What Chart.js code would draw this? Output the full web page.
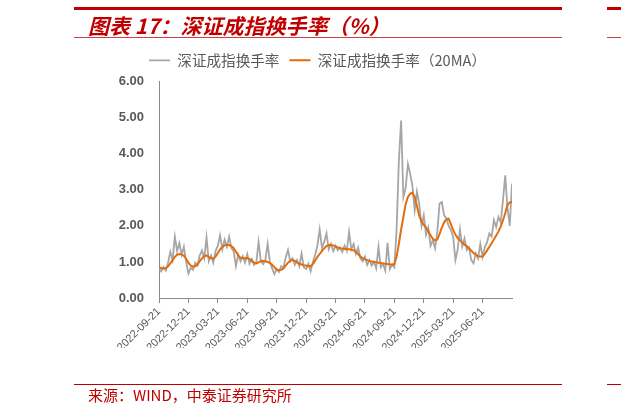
<!DOCTYPE html>
<html>
<head>
<meta charset="utf-8">
<script src="https://cdn.jsdelivr.net/npm/chart.js@4.4.1/dist/chart.umd.min.js"></script>
<style>
  html, body { margin: 0; padding: 0; background: #fff; }
  body { width: 621px; height: 415px; position: relative; overflow: hidden; font-family: "Noto Sans CJK SC", sans-serif; }
  .rule { position: absolute; background: #C00000; }
  #title { position: absolute; left: 88px; top: 11px; font-size: 21px; line-height: 28px; font-weight: bold; font-style: italic; color: #C00000; z-index: 2; }
  #source { position: absolute; left: 88px; top: 385px; font-size: 15px; line-height: 20px; color: #C00000; z-index: 2; }
  #wrap { position: absolute; left: 0; top: 0; width: 621px; height: 415px; }
</style>
</head>
<body>
<!-- page furniture: red rules, title, source -->
<div class="rule" style="left:74px; top:7px; width:488px; height:3px;"></div>
<div class="rule" style="left:74px; top:37px; width:488px; height:1px; opacity:0.75;"></div>
<div class="rule" style="left:74px; top:384px; width:488px; height:1px;"></div>
<div class="rule" style="left:607px; top:7px; width:14px; height:3px;"></div>
<div class="rule" style="left:607px; top:37px; width:14px; height:1px; opacity:0.75;"></div>
<div class="rule" style="left:607px; top:384px; width:14px; height:1px;"></div>
<div id="title">图表 17：深证成指换手率（%）</div>
<div id="source">来源：WIND，中泰证券研究所</div>
<div id="wrap"><canvas id="chart" width="621" height="415"></canvas></div>

<script>
// quarterly tick labels, one every 13 weeks starting at week 0
const tickLabels = [
  "2022-09-21", "2022-12-21", "2023-03-21", "2023-06-21", "2023-09-21", "2023-12-21",
  "2024-03-21", "2024-06-21", "2024-09-21", "2024-12-21", "2025-03-21", "2025-06-21"
];
const weeksPerTick = 13;
const lastWeek = 156;

// weekly readings of the daily turnover (%)
const turnover = [
  0.82, 0.74, 0.86, 0.76, 0.98, 1.28, 1.05, 1.70, 1.30, 1.52,
  1.20, 1.42, 1.00, 0.68, 0.84, 0.78, 0.98, 0.90, 1.18, 1.32,
  1.10, 1.68, 1.02, 1.18, 0.98, 1.30, 1.45, 1.74, 1.35, 1.62,
  1.42, 1.70, 1.38, 1.30, 0.88, 1.20, 1.02, 1.16, 0.98, 1.22,
  0.95, 1.08, 0.92, 0.98, 1.56, 1.02, 0.94, 1.05, 1.50, 1.00,
  0.82, 0.66, 0.80, 0.72, 0.88, 0.85, 1.12, 1.33, 1.02, 1.10,
  0.92, 1.05, 0.88, 1.23, 0.85, 0.80, 0.95, 0.74, 1.00, 1.20,
  1.45, 1.90, 1.40, 1.55, 1.80, 1.35, 1.50, 1.30, 1.45, 1.32,
  1.40, 1.28, 1.45, 1.30, 1.83, 1.35, 1.50, 1.22, 1.40, 1.10,
  1.02, 1.15, 0.92, 1.05, 0.90, 1.00, 0.82, 1.42, 0.85, 0.95,
  0.76, 1.53, 0.80, 0.92, 0.85, 1.90, 3.80, 4.92, 2.80, 3.05,
  3.72, 3.45, 3.10, 2.43, 2.95, 2.60, 2.00, 2.30, 1.75, 1.95,
  1.45, 1.60, 1.38, 1.85, 2.62, 2.66, 2.30, 2.20, 2.00, 1.88,
  1.70, 1.05, 1.35, 1.90, 1.42, 1.65, 1.33, 1.40, 1.05, 0.96,
  1.24, 1.10, 1.50, 1.14, 1.42, 1.55, 1.79, 1.70, 2.16, 1.97,
  2.25, 2.10, 2.70, 3.40, 2.50, 2.00, 3.17
];

// 20-day moving average, same weeks
const turnoverMA = [
  0.84, 0.83, 0.82, 0.83, 0.88, 0.96, 1.05, 1.14, 1.20, 1.22,
  1.21, 1.17, 1.08, 0.98, 0.90, 0.87, 0.88, 0.93, 1.02, 1.10,
  1.16, 1.18, 1.14, 1.10, 1.09, 1.15, 1.25, 1.35, 1.42, 1.46,
  1.47, 1.47, 1.44, 1.38, 1.28, 1.18, 1.12, 1.10, 1.10, 1.11,
  1.08, 1.03, 0.98, 0.96, 0.99, 1.02, 1.03, 1.02, 1.00, 0.97,
  0.92, 0.85, 0.79, 0.77, 0.78, 0.82, 0.90, 0.98, 1.03, 1.05,
  1.03, 0.99, 0.95, 0.93, 0.91, 0.90, 0.88, 0.88, 0.94, 1.04,
  1.14, 1.22, 1.30, 1.38, 1.44, 1.47, 1.47, 1.46, 1.43, 1.40,
  1.38, 1.37, 1.36, 1.36, 1.35, 1.34, 1.32, 1.28, 1.22, 1.15,
  1.10, 1.07, 1.05, 1.03, 1.01, 1.00, 0.99, 0.98, 0.97, 0.96,
  0.95, 0.94, 0.93, 0.93, 0.94, 1.14, 1.50, 1.90, 2.25, 2.60,
  2.80, 2.89, 2.92, 2.80, 2.55, 2.28, 2.12, 2.03, 1.96, 1.85,
  1.74, 1.64, 1.59, 1.62, 1.78, 1.95, 2.10, 2.18, 2.20, 2.05,
  1.88, 1.76, 1.66, 1.60, 1.54, 1.48, 1.44, 1.38, 1.31, 1.25,
  1.20, 1.16, 1.15, 1.15, 1.22, 1.32, 1.42, 1.52, 1.62, 1.73,
  1.84, 1.98, 2.15, 2.35, 2.58, 2.65, 2.66
];

const toPoints = (arr) => arr.map((v, i) => ({ x: i, y: v }));

// a bit more room under the legend, and nudge it right to sit like the original
const legendTweak = {
  id: "legendTweak",
  beforeInit(chart) {
    if (!chart.legend) return;
    const fit = chart.legend.fit;
    chart.legend.fit = function () {
      fit.call(this);
      this.height += 4;
    };
  },
  afterLayout(chart) {
    if (!chart.legend) return;
    chart.legend.left += 12;
    chart.legend.right += 12;
  }
};

const axisGrey = "#898989";
const textGrey = "#595959";

new Chart(document.getElementById("chart"), {
  type: "line",
  data: {
    datasets: [
      {
        label: "深证成指换手率",
        data: toPoints(turnover),
        borderColor: "#A6A6A6",
        backgroundColor: "#A6A6A6",
        borderWidth: 1.8,
        pointRadius: 0,
        tension: 0,
        order: 2
      },
      {
        label: "深证成指换手率（20MA）",
        data: toPoints(turnoverMA),
        borderColor: "#E46C0A",
        backgroundColor: "#E46C0A",
        borderWidth: 2,
        pointRadius: 0,
        tension: 0,
        order: 1
      }
    ]
  },
  options: {
    responsive: false,
    animation: false,
    layout: { padding: { top: 43, left: 99, right: 109, bottom: 67 } },
    plugins: {
      tooltip: { enabled: false },
      legend: {
        position: "top",
        labels: {
          usePointStyle: true,
          pointStyle: "line",
          pointStyleWidth: 21,
          boxHeight: 12,
          padding: 10,
          color: textGrey,
          font: { family: "'Noto Sans CJK SC', sans-serif", size: 14.6 },
          sort: (a, b) => a.datasetIndex - b.datasetIndex
        }
      }
    },
    scales: {
      x: {
        type: "linear",
        min: 0,
        max: lastWeek,
        afterBuildTicks: (scale) => {
          scale.ticks = tickLabels.map((_, i) => ({ value: i * weeksPerTick }));
        },
        afterFit: (scale) => { scale.height = 50; },
        grid: { display: true, drawOnChartArea: false, drawTicks: true, tickLength: 5, color: axisGrey },
        border: { display: true, color: axisGrey, width: 1 },
        ticks: {
          autoSkip: false,
          minRotation: 45,
          maxRotation: 45,
          padding: 2,
          color: textGrey,
          font: { family: "'Liberation Sans', Arial, sans-serif", size: 11 },
          callback: (value, index) => tickLabels[index]
        }
      },
      y: {
        min: 0,
        max: 6,
        afterFit: (scale) => { scale.width = 60; },
        grid: { display: false, drawTicks: false },
        border: { display: true, color: axisGrey, width: 1 },
        ticks: {
          stepSize: 1,
          padding: 15,
          color: textGrey,
          font: { family: "'Liberation Sans', Arial, sans-serif", size: 13, weight: "bold" },
          callback: (value) => value.toFixed(2)
        }
      }
    }
  },
  plugins: [legendTweak]
});
</script>
</body>
</html>
